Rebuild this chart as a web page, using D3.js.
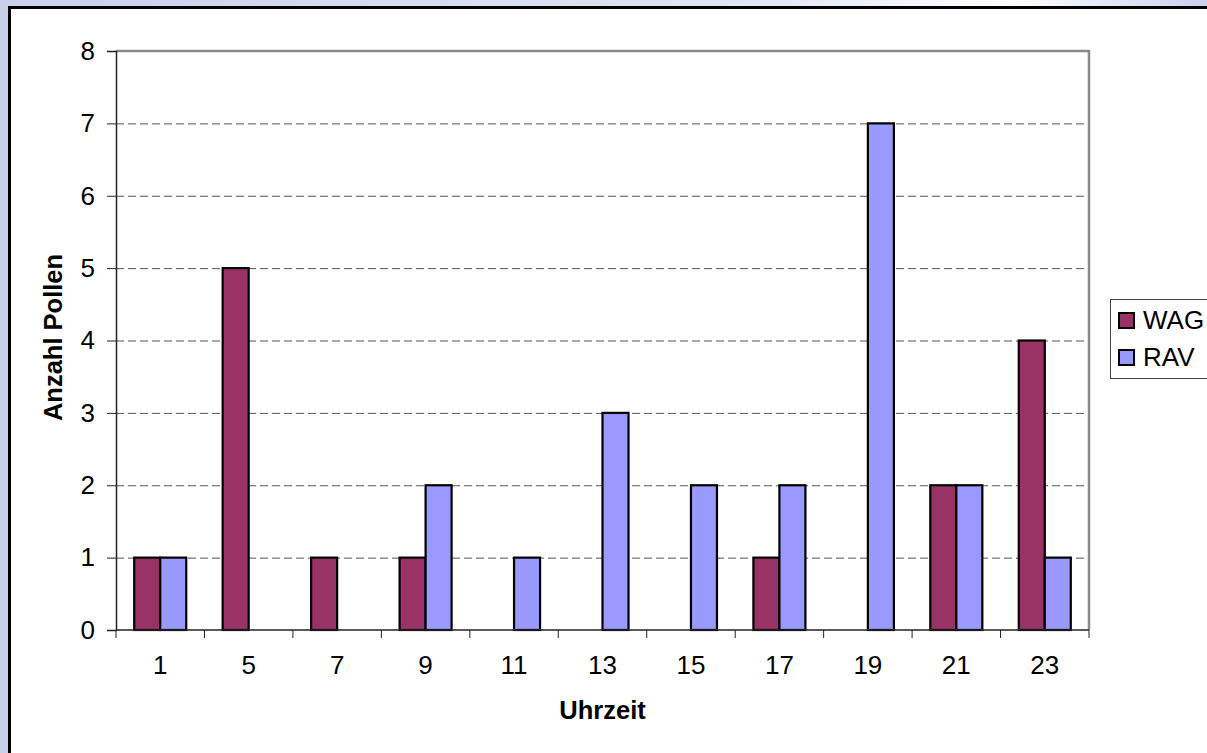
<!DOCTYPE html>
<html>
<head>
<meta charset="utf-8">
<script src="https://cdn.jsdelivr.net/npm/d3@7"></script>
<style>
  body { margin: 0; background: #fff; }
  text { font-family: "Liberation Sans", Arial, sans-serif; }
</style>
</head>
<body>
<script>
// data
var categories = ["1", "5", "7", "9", "11", "13", "15", "17", "19", "21", "23"];
var seriesNames = ["WAG", "RAV"];
var wag = [1, 5, 1, 1, 0, 0, 0, 1, 0, 2, 4];
var rav = [1, 0, 0, 2, 1, 3, 2, 2, 7, 2, 1];
var yTicks = [0, 1, 2, 3, 4, 5, 6, 7, 8];

var colors = { WAG: "#993366", RAV: "#9999ff" };

var W = 1207, H = 753;
var plot = { left: 116, top: 51, right: 1089, bottom: 630 };

var svg = d3.select("body").append("svg")
  .attr("width", W)
  .attr("height", H);

// outer background with the bluish frame
var defs = svg.append("defs");
var grad = defs.append("linearGradient").attr("id", "topStrip")
  .attr("x1", "0%").attr("x2", "100%");
grad.append("stop").attr("offset", "0%").attr("stop-color", "#c8d0ee");
grad.append("stop").attr("offset", "60%").attr("stop-color", "#dfe4f5");
grad.append("stop").attr("offset", "84%").attr("stop-color", "#ffffff");
grad.append("stop").attr("offset", "100%").attr("stop-color", "#c8d0ee");

svg.append("rect").attr("width", W).attr("height", H).attr("fill", "#c8d0ee");
svg.append("rect").attr("width", W).attr("height", 8).attr("fill", "url(#topStrip)");

svg.append("rect")
  .attr("x", 9.5).attr("y", 7.5)
  .attr("width", W + 10).attr("height", H + 10)
  .attr("fill", "#fff")
  .attr("stroke", "#000")
  .attr("stroke-width", 3);

// scales
var x = d3.scaleBand().domain(categories).range([plot.left, plot.right]);
var xs = d3.scaleBand().domain(seriesNames).range([0, x.bandwidth()]).paddingOuter(0.7);
var y = d3.scaleLinear().domain([0, 8]).range([plot.bottom, plot.top]);

// gridlines
svg.append("g").selectAll("line")
  .data(yTicks.filter(function(d){ return d > 0 && d < 8; }))
  .enter().append("line")
  .attr("x1", plot.left).attr("x2", plot.right)
  .attr("y1", function(d){ return y(d) + 0.5; })
  .attr("y2", function(d){ return y(d) + 0.5; })
  .attr("stroke", "#555")
  .attr("stroke-width", 1)
  .attr("stroke-dasharray", "8,4");

// plot border top + right
svg.append("path")
  .attr("d", "M" + plot.left + "," + plot.top + "H" + plot.right + "V" + plot.bottom)
  .attr("fill", "none")
  .attr("stroke", "#8a8a8a")
  .attr("stroke-width", 2.5);

// bars
var rows = categories.map(function(c, i){
  return { cat: c, values: [{ key: "WAG", v: wag[i] }, { key: "RAV", v: rav[i] }] };
});

var groups = svg.append("g").selectAll("g")
  .data(rows)
  .enter().append("g")
  .attr("transform", function(d){ return "translate(" + x(d.cat) + ",0)"; });

groups.selectAll("rect")
  .data(function(d){ return d.values.filter(function(e){ return e.v > 0; }); })
  .enter().append("rect")
  .attr("x", function(d){ return xs(d.key); })
  .attr("y", function(d){ return y(d.v); })
  .attr("width", xs.bandwidth())
  .attr("height", function(d){ return y(0) - y(d.v); })
  .attr("fill", function(d){ return colors[d.key]; })
  .attr("stroke", "#000")
  .attr("stroke-width", 2.2);

// y axis
var yAxis = d3.axisLeft(y).tickValues(yTicks).tickSize(9).tickPadding(12);
var gy = svg.append("g").attr("transform", "translate(" + plot.left + ",0)").call(yAxis);
gy.select(".domain").attr("stroke", "#222").attr("stroke-width", 1.5);
gy.selectAll(".tick line").attr("stroke", "#222");
gy.selectAll("text").attr("font-size", 26).attr("fill", "#000")
  .style("font-family", "'Liberation Sans', Arial, sans-serif");

// x axis: ticks at band edges
var edges = categories.map(function(c){ return x(c); }).concat([plot.right]);
var gx = svg.append("g");
gx.append("line")
  .attr("x1", plot.left).attr("x2", plot.right)
  .attr("y1", plot.bottom).attr("y2", plot.bottom)
  .attr("stroke", "#222").attr("stroke-width", 1.5);
gx.selectAll(".xt").data(edges).enter().append("line")
  .attr("x1", function(d){ return d; }).attr("x2", function(d){ return d; })
  .attr("y1", plot.bottom).attr("y2", plot.bottom + 8)
  .attr("stroke", "#222");
gx.selectAll("text").data(categories).enter().append("text")
  .attr("x", function(d){ return x(d) + x.bandwidth() / 2; })
  .attr("y", 674)
  .attr("text-anchor", "middle")
  .attr("font-size", 26)
  .text(function(d){ return d; });

// axis titles
svg.append("text")
  .attr("x", (plot.left + plot.right) / 2)
  .attr("y", 719)
  .attr("text-anchor", "middle")
  .attr("font-size", 25.5)
  .attr("font-weight", "bold")
  .text("Uhrzeit");

svg.append("text")
  .attr("transform", "translate(62," + ((plot.top + plot.bottom) / 2 - 3) + ") rotate(-90)")
  .attr("text-anchor", "middle")
  .attr("font-size", 25.5)
  .attr("font-weight", "bold")
  .text("Anzahl Pollen");

// legend
var legend = svg.append("g").attr("transform", "translate(1110,299)");
legend.append("rect")
  .attr("x", 0.5).attr("y", 0.5)
  .attr("width", 120).attr("height", 79)
  .attr("fill", "#fff")
  .attr("stroke", "#444")
  .attr("stroke-width", 1);
var li = legend.selectAll(".li").data(seriesNames).enter().append("g")
  .attr("transform", function(d, i){ return "translate(9," + (14 + i * 37) + ")"; });
li.append("rect")
  .attr("width", 15).attr("height", 15)
  .attr("fill", function(d){ return colors[d]; })
  .attr("stroke", "#000")
  .attr("stroke-width", 2);
li.append("text")
  .attr("x", 24).attr("y", 15.5)
  .attr("font-size", 26)
  .text(function(d){ return d; });
</script>
</body>
</html>
